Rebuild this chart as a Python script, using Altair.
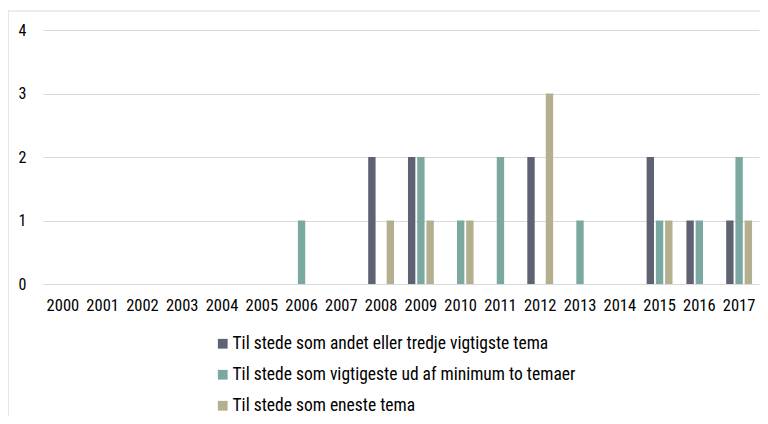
import altair as alt
import pandas as pd

years = [str(y) for y in range(2000, 2018)]
series = [
    "Til stede som andet eller tredje vigtigste tema",
    "Til stede som vigtigeste ud af minimum to temaer",
    "Til stede som eneste tema",
]
s1 = [0, 0, 0, 0, 0, 0, 0, 0, 2, 2, 0, 0, 2, 0, 0, 2, 1, 1]
s2 = [0, 0, 0, 0, 0, 0, 1, 0, 0, 2, 1, 2, 0, 1, 0, 1, 1, 2]
s3 = [0, 0, 0, 0, 0, 0, 0, 0, 1, 1, 1, 0, 3, 0, 0, 1, 0, 1]
colors = ["#5f6272", "#7ba9a2", "#b3af8f"]

rows = []
for name, vals in zip(series, [s1, s2, s3]):
    for y, v in zip(years, vals):
        rows.append({"year": y, "series": name, "value": v})
df = pd.DataFrame(rows)

FONT = "Roboto Condensed, Liberation Sans Narrow, DejaVu Sans Condensed, sans-serif"

frame = alt.Chart(alt.Data(values=[{}])).mark_rect(
    fill="transparent", stroke="#d9d9d9", strokeWidth=1.2
).encode(
    x=alt.value(-35), x2=alt.value(740), y=alt.value(-19), y2=alt.value(420)
)

bars = alt.Chart(df).mark_bar().encode(
    x=alt.X("year:N", sort=years,
            scale=alt.Scale(domain=years, paddingInner=0.35, paddingOuter=0.175),
            axis=alt.Axis(title=None, labelAngle=0, ticks=False, domain=False,
                          labelPadding=13, labelFontSize=16.5, labelFont=FONT,
                          labelColor="#000000")),
    xOffset=alt.XOffset("series:N", sort=series,
                        scale=alt.Scale(domain=series, paddingInner=0.2, paddingOuter=0)),
    y=alt.Y("value:Q", scale=alt.Scale(domain=[0, 4]),
            axis=alt.Axis(title=None, values=[0, 1, 2, 3, 4], format="d", ticks=False,
                          domain=False, labelPadding=17, labelFontSize=16, labelFont=FONT,
                          labelColor="#000000", gridColor="#d9d9d9", gridWidth=1.2)),
    color=alt.Color("series:N", sort=series,
                    scale=alt.Scale(domain=series, range=colors),
                    legend=alt.Legend(title=None, orient="none", legendX=171, legendY=305,
                                      direction="vertical", symbolType="square",
                                      symbolSize=95, symbolStrokeWidth=0,
                                      labelFontSize=17.5, labelFont=FONT, labelColor="#000000",
                                      rowPadding=12, labelOffset=1, labelLimit=600)),
)

chart = alt.layer(frame, bars).properties(
    width=716, height=254,
    autosize=alt.AutoSizeParams(type="none"),
    padding={"left": 35, "top": 22, "right": 1, "bottom": 132},
).configure_view(strokeWidth=0)

chart.save("out.html", embed_options={"renderer": "svg", "actions": False})
